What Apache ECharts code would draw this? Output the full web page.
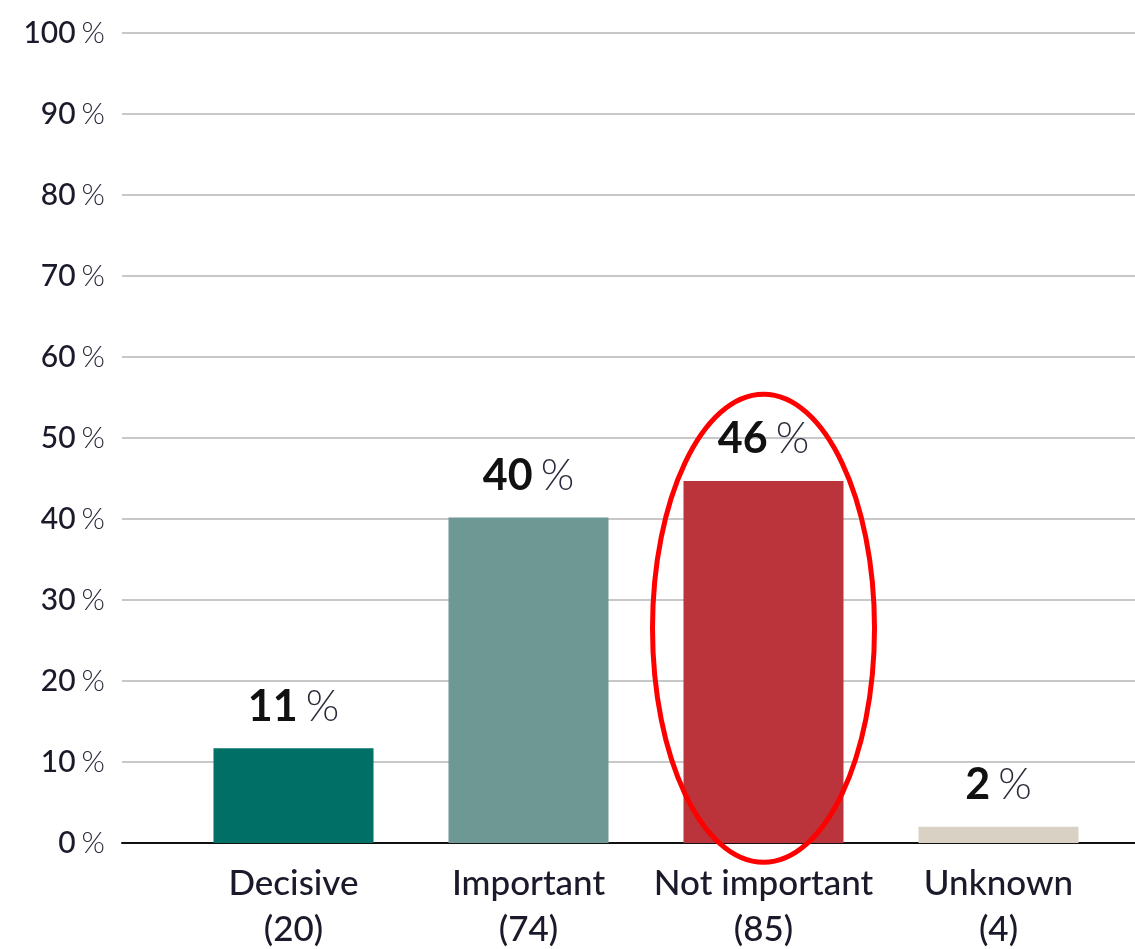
<!DOCTYPE html>
<html><head><meta charset="utf-8">
<script src="https://cdn.jsdelivr.net/npm/echarts@6/dist/echarts.min.js"></script>
<style>html,body{margin:0;padding:0;background:#fff}#c{width:1135px;height:949px}</style>
</head><body><div id="c"></div>
<script>
const categories = ['Decisive', 'Important', 'Not important', 'Unknown'];
const counts = ['20', '74', '85', '4'];
const barValues = [11.7, 40.2, 44.7, 2.0];
const labelValues = ['11', '40', '46', '2'];
const barColors = ['#006f66', '#6e9893', '#bb333b', '#d9d1c3'];
const yTicks = [0, 10, 20, 30, 40, 50, 60, 70, 80, 90, 100];
const highlightIndex = 2;
const highlightCenterValue = 26.5;

const FONT = 'Lato';
const chart = echarts.init(document.getElementById('c'));
const option = {
  animation: false,
  textStyle: { fontFamily: FONT },
  grid: [
    { left: 122, right: 0, top: 33, bottom: 106, containLabel: false, outerBoundsMode: 'none' },
    { left: 176, right: 19, top: 33, bottom: 106, containLabel: false, outerBoundsMode: 'none' }
  ],
  xAxis: [
    { type: 'category', gridIndex: 0, data: categories, axisTick: { show: false }, axisLabel: { show: false },
      axisLine: { show: true, lineStyle: { color: '#111', width: 2 } } },
    { type: 'category', gridIndex: 1, data: categories.map((c, i) => c + '\n(' + counts[i] + ')'),
      axisTick: { show: false }, axisLine: { show: false },
      axisLabel: { color: '#1a1a2a', fontSize: 35, fontFamily: FONT, fontWeight: 500, lineHeight: 46, margin: 18, interval: 0 } }
  ],
  yAxis: [
    { type: 'value', gridIndex: 0, min: yTicks[0], max: yTicks[yTicks.length - 1], interval: 10,
      axisLine: { show: false }, axisTick: { show: false },
      splitLine: { lineStyle: { color: '#c8c8c8', width: 2 } },
      axisLabel: { margin: 17, formatter: v => '{n|' + v + '}{p|%}',
        rich: { n: { fontSize: 30, color: '#1a1a2a', fontWeight: 500, fontFamily: FONT },
                p: { fontSize: 30, color: '#2a2a3a', fontWeight: 300, fontFamily: FONT, padding: [0, 0, 0, 6] } } } },
    { type: 'value', gridIndex: 1, min: 0, max: 100, interval: 10, show: false }
  ],
  series: [{
    type: 'bar', xAxisIndex: 1, yAxisIndex: 1, barWidth: 160,
    data: barValues.map((v, i) => ({ value: v, itemStyle: { color: barColors[i] } })),
    label: { show: true, position: 'top', distance: 20,
      formatter: p => '{n|' + labelValues[p.dataIndex] + '}{p|%}',
      rich: { n: { fontSize: 43, color: '#111', fontWeight: 'bold', fontFamily: FONT },
              p: { fontSize: 43, color: '#2a2a3a', fontWeight: 300, fontFamily: FONT, padding: [0, 0, 0, 8] } } }
  }]
};
chart.setOption(option);
const center = chart.convertToPixel({ xAxisIndex: 1, yAxisIndex: 1 }, [highlightIndex, highlightCenterValue]);
chart.setOption({
  graphic: [{ type: 'ellipse', shape: { cx: center[0], cy: center[1], rx: 111, ry: 234 },
    style: { fill: 'none', stroke: '#ff0000', lineWidth: 5 }, z: 100 }]
});
</script></body></html>
